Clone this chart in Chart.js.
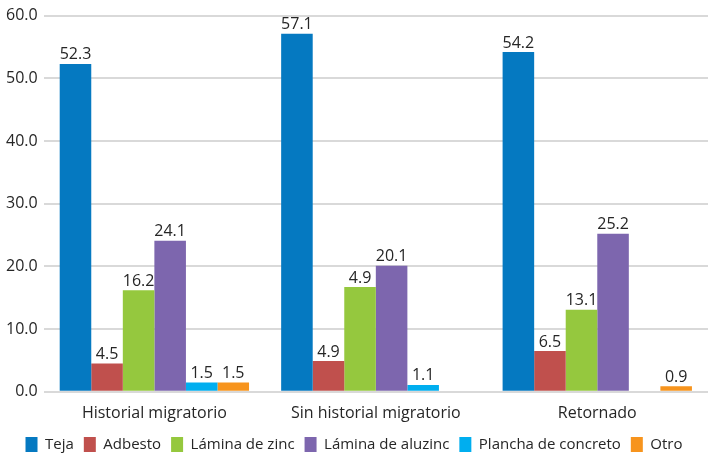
<!DOCTYPE html>
<html lang="es">
<head>
  <meta charset="UTF-8" />
  <title>Material del techo</title>
  <style>
    body { margin: 0; background: #ffffff; }
    .wrap { width: 708px; height: 454px; }
  </style>
</head>
<body>
  <div class="wrap"><canvas id="grafico"></canvas></div>

  <script src="https://cdn.jsdelivr.net/npm/chart.js"></script>
  <script>
    const categorias = ["Historial migratorio", "Sin historial migratorio", "Retornado"];

    const teja = [52.3, 57.1, 54.2];
    const adbesto = [4.5, 4.9, 6.5];
    const laminaZinc = [16.2, 16.7, 13.1];
    const laminaAluzinc = [24.1, 20.1, 25.2];
    const planchaConcreto = [1.5, 1.1, null];
    const otro = [1.5, null, 0.9];

    // textos de etiqueta tal como aparecen (uno no coincide con la barra)
    const etiquetasZinc = ["16.2", "4.9", "13.1"];

    const ticksY = [0, 10, 20, 30, 40, 50, 60];

    const fuente = "'Open Sans', 'Noto Sans', sans-serif";

    const series = [
      { label: "Teja", data: teja, color: '#0579c1' },
      { label: "Adbesto", data: adbesto, color: '#c0504d' },
      { label: "Lámina de zinc", data: laminaZinc, color: '#95c83e', textos: etiquetasZinc },
      { label: "Lámina de aluzinc", data: laminaAluzinc, color: '#7d66ae' },
      { label: "Plancha de concreto", data: planchaConcreto, color: '#00aeef' },
      { label: "Otro", data: otro, color: '#f7941d' }
    ];

    const etiquetas = {
      id: 'etiquetas',
      afterDatasetsDraw(chart) {
        const ctx = chart.ctx;
        ctx.save();
        ctx.font = "16px " + fuente;
        ctx.fillStyle = '#262626';
        ctx.textAlign = 'center';
        ctx.textBaseline = 'bottom';
        chart.data.datasets.forEach((ds, i) => {
          chart.getDatasetMeta(i).data.forEach((bar, j) => {
            const v = ds.data[j];
            if (v === null) return;
            const txt = ds.textos ? ds.textos[j] : v.toFixed(1);
            ctx.fillText(txt, bar.x, bar.y - 1);
          });
        });
        ctx.restore();
      }
    };

    new Chart(document.getElementById("grafico"), {
      type: 'bar',
      data: {
        labels: categorias,
        datasets: series.map(s => ({
          label: s.label,
          data: s.data,
          textos: s.textos,
          backgroundColor: s.color,
          categoryPercentage: 0.855,
          barPercentage: 1.0
        }))
      },
      options: {
        responsive: true,
        maintainAspectRatio: false,
        animation: false,
        layout: { padding: { top: 6, right: 0, left: 0, bottom: -8 } },
        scales: {
          x: {
            grid: { display: false },
            border: { display: false },
            ticks: { color: '#262626', font: { family: fuente, size: 16 }, padding: 4 }
          },
          y: {
            min: 0,
            max: 60,
            afterBuildTicks: axis => { axis.ticks = ticksY.map(v => ({ value: v })); },
            grid: { color: '#d9d9d9', lineWidth: 2, drawTicks: false },
            border: { display: false },
            ticks: {
              color: '#262626',
              font: { family: fuente, size: 16 },
              padding: 6,
              callback: v => v.toFixed(1)
            }
          }
        },
        plugins: {
          legend: {
            position: 'bottom',
            labels: {
              color: '#262626',
              font: { family: fuente, size: 15 },
              boxWidth: 12,
              boxHeight: 15,
              padding: 10
            }
          },
          tooltip: { enabled: false }
        }
      },
      plugins: [etiquetas]
    });
  </script>
</body>
</html>
